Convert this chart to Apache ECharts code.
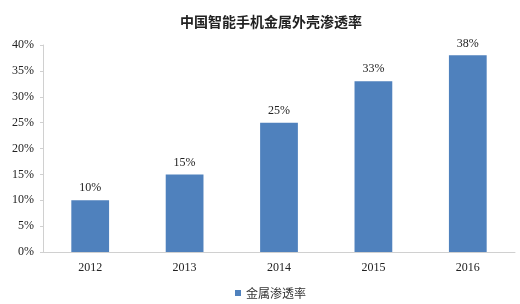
<!DOCTYPE html>
<html><head><meta charset="utf-8">
<script src="https://cdn.jsdelivr.net/npm/echarts@6/dist/echarts.min.js"></script>
<style>html,body{margin:0;padding:0;background:#fff}#c{width:520px;height:304px}</style>
</head><body><div id="c"></div>
<script>
const categories = ['2012','2013','2014','2015','2016'];
const values = [10, 15, 25, 33, 38];
const seriesName = '金属渗透率';
const titleText = '中国智能手机金属外壳渗透率';
const chart = echarts.init(document.getElementById('c'));
chart.setOption({
  animation: false,
  backgroundColor: '#fff',
  title: {text: titleText, left: 175, top: 10,
    textStyle: {fontFamily: '"Noto Sans CJK SC"', fontSize: 14, fontWeight: 'bold', color: '#222'}},
  grid: {left: 43, right: 5, top: 45, bottom: 52},
  legend: {data: [seriesName], top: 282, left: 230, itemWidth: 6, itemHeight: 6, itemGap: 3,
    icon: 'rect', textStyle: {fontFamily: '"Noto Sans CJK SC"', fontSize: 12, color: '#333'}},
  xAxis: {type: 'category', data: categories,
    axisLine: {lineStyle: {color: '#d0d0d0'}}, axisTick: {show: false},
    axisLabel: {fontFamily: '"Liberation Serif"', fontSize: 12, color: '#222', margin: 10}},
  yAxis: {type: 'value', min: 0, max: 40, interval: 5,
    axisLine: {show: true, lineStyle: {color: '#d0d0d0'}}, axisTick: {show: true, length: 3, lineStyle: {color: '#d0d0d0'}},
    splitLine: {show: false},
    axisLabel: {formatter: '{value}%', fontFamily: '"Liberation Serif"', fontSize: 12, color: '#222', margin: 9}},
  series: [{name: seriesName, type: 'bar', data: values, barWidth: '40%',
    itemStyle: {color: '#4f81bd'},
    label: {show: true, position: 'top', formatter: '{c}%', distance: 6,
      fontFamily: '"Liberation Serif"', fontSize: 12, color: '#222'}}]
});
</script></body></html>
